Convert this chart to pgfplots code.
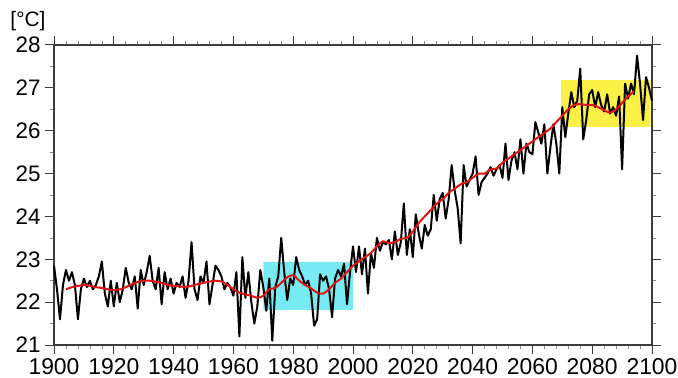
\documentclass[border=0pt]{standalone}
\usepackage{fontspec}
\setmainfont{Liberation Sans}
\usepackage{pgfplots}
\usepackage{pgfplotstable}
\pgfplotsset{compat=1.18}
\definecolor{cyanbox}{RGB}{120,234,244}
\definecolor{yellowbox}{RGB}{250,240,70}
\definecolor{axgray}{RGB}{60,60,60}
\definecolor{redline}{RGB}{225,20,20}

\pgfplotstableread{
year temp
1900 22.85
1901 22.3
1902 21.6
1903 22.4
1904 22.75
1905 22.5
1906 22.7
1907 22.4
1908 21.6
1909 22.3
1910 22.55
1911 22.35
1912 22.5
1913 22.3
1914 22.4
1915 22.6
1916 22.95
1917 22.2
1918 21.9
1919 22.5
1920 21.9
1921 22.45
1922 22.0
1923 22.3
1924 22.8
1925 22.45
1926 22.3
1927 22.6
1928 21.85
1929 22.75
1930 22.4
1931 22.7
1932 23.08
1933 22.5
1934 22.3
1935 22.8
1936 21.95
1937 22.7
1938 22.3
1939 22.55
1940 22.2
1941 22.45
1942 22.35
1943 22.6
1944 22.1
1945 22.5
1946 23.4
1947 22.3
1948 22.05
1949 22.6
1950 22.45
1951 22.95
1952 21.95
1953 22.4
1954 22.85
1955 22.75
1956 22.6
1957 22.3
1958 22.45
1959 22.35
1960 22.15
1961 22.7
1962 21.2
1963 23.05
1964 22.1
1965 22.7
1966 22.0
1967 21.5
1968 21.9
1969 22.75
1970 22.35
1971 21.8
1972 22.55
1973 21.1
1974 22.35
1975 22.6
1976 23.5
1977 22.7
1978 22.05
1979 22.55
1980 22.4
1981 23.05
1982 22.75
1983 22.6
1984 22.4
1985 22.5
1986 22.2
1987 21.45
1988 21.6
1989 22.65
1990 22.5
1991 22.6
1992 22.3
1993 21.65
1994 22.55
1995 22.75
1996 22.6
1997 22.9
1998 21.95
1999 22.7
2000 23.3
2001 22.7
2002 23.3
2003 22.65
2004 23.25
2005 22.2
2006 23.15
2007 22.8
2008 23.5
2009 23.2
2010 23.4
2011 23.35
2012 23.45
2013 23.0
2014 23.65
2015 23.1
2016 23.4
2017 24.3
2018 23.1
2019 23.7
2020 23.05
2021 24.05
2022 23.6
2023 23.25
2024 23.8
2025 23.55
2026 23.7
2027 24.5
2028 23.9
2029 24.4
2030 24.55
2031 23.95
2032 24.4
2033 25.2
2034 24.6
2035 24.2
2036 23.37
2037 25.2
2038 24.7
2039 24.85
2040 25.0
2041 25.4
2042 24.5
2043 24.8
2044 24.9
2045 25.0
2046 25.15
2047 24.95
2048 25.1
2049 25.2
2050 24.9
2051 25.7
2052 24.85
2053 25.3
2054 25.5
2055 25.1
2056 25.8
2057 25.0
2058 25.7
2059 25.5
2060 25.45
2061 26.2
2062 25.95
2063 25.7
2064 26.15
2065 25.0
2066 25.6
2067 26.15
2068 25.7
2069 25.0
2070 26.55
2071 25.85
2072 26.4
2073 26.9
2074 26.55
2075 26.7
2076 27.45
2077 25.8
2078 26.25
2079 26.85
2080 26.95
2081 26.55
2082 26.9
2083 26.6
2084 26.45
2085 26.85
2086 26.4
2087 26.55
2088 26.35
2089 26.8
2090 25.1
2091 27.1
2092 26.75
2093 27.1
2094 26.85
2095 27.75
2096 27.1
2097 26.25
2098 27.25
2099 27.0
2100 26.7
}\annual

\pgfplotstableread{
year temp
1904 22.3
1906 22.35
1908 22.38
1910 22.4
1912 22.38
1914 22.35
1916 22.33
1918 22.3
1920 22.28
1922 22.3
1924 22.35
1926 22.42
1928 22.47
1930 22.5
1932 22.5
1934 22.48
1936 22.45
1938 22.4
1940 22.38
1942 22.37
1944 22.35
1946 22.38
1948 22.42
1950 22.45
1952 22.48
1954 22.5
1956 22.48
1958 22.4
1960 22.3
1962 22.22
1964 22.18
1966 22.15
1968 22.1
1970 22.15
1972 22.3
1974 22.33
1976 22.45
1978 22.58
1980 22.63
1982 22.5
1984 22.4
1986 22.32
1988 22.22
1990 22.2
1992 22.3
1994 22.45
1996 22.55
1998 22.7
2000 22.85
2002 22.95
2004 23.05
2006 23.15
2008 23.3
2010 23.42
2012 23.38
2014 23.4
2016 23.48
2018 23.5
2020 23.65
2022 23.85
2024 24.0
2026 24.15
2028 24.3
2030 24.4
2032 24.55
2034 24.65
2036 24.75
2038 24.8
2040 24.9
2042 25.0
2044 25.0
2046 25.1
2048 25.12
2050 25.25
2052 25.35
2054 25.45
2056 25.55
2058 25.65
2060 25.75
2062 25.85
2064 25.95
2066 26.05
2068 26.2
2070 26.35
2072 26.5
2074 26.6
2076 26.62
2078 26.6
2080 26.6
2082 26.55
2084 26.48
2086 26.42
2088 26.5
2090 26.65
2092 26.8
2094 26.92
}\smooth

\begin{document}
\begin{tikzpicture}
\begin{axis}[
  scale only axis,
  width=598bp, height=300bp,
  xmin=1900, xmax=2100,
  ymin=21, ymax=28,
  xtick={1900,1920,...,2100},
  ytick={21,22,...,28},
  minor x tick num=4,
  minor y tick num=1,
  tick align=outside,
  major tick length=9bp,
  minor tick length=4bp,
  axis line style={axgray, line width=1.3bp},
  every tick/.style={axgray, line width=1bp},
  every minor tick/.style={axgray!60, line width=0.6bp},
  xticklabel style={font=\fontsize{23}{24}\selectfont, yshift=-1bp},
  yticklabel style={font=\fontsize{22.5}{24}\selectfont, xshift=-1bp},
  /pgf/number format/assume math mode=true,
  /pgf/number format/1000 sep={},
  clip=false,
]
\addplot[draw=none, fill=cyanbox] coordinates {(1970,21.82) (2000,21.82) (2000,22.94) (1970,22.94) (1970,21.82)};
\addplot[draw=none, fill=yellowbox] coordinates {(2069.6,26.09) (2099.5,26.09) (2099.5,27.18) (2069.6,27.18) (2069.6,26.09)};
\addplot[black, line width=2bp, line join=round] table[x=year, y=temp] {\annual};
\addplot[redline, line width=2bp, smooth, line join=round] table[x=year, y=temp] {\smooth};
\node[font=\fontsize{21}{22}\selectfont, anchor=center] at (rel axis cs:0,1) [xshift=-26bp, yshift=24bp] {[°C]};
\end{axis}
\pgfresetboundingbox
\path[use as bounding box] (-54bp,-33bp) rectangle (624bp,345bp);
\end{tikzpicture}
\end{document}
